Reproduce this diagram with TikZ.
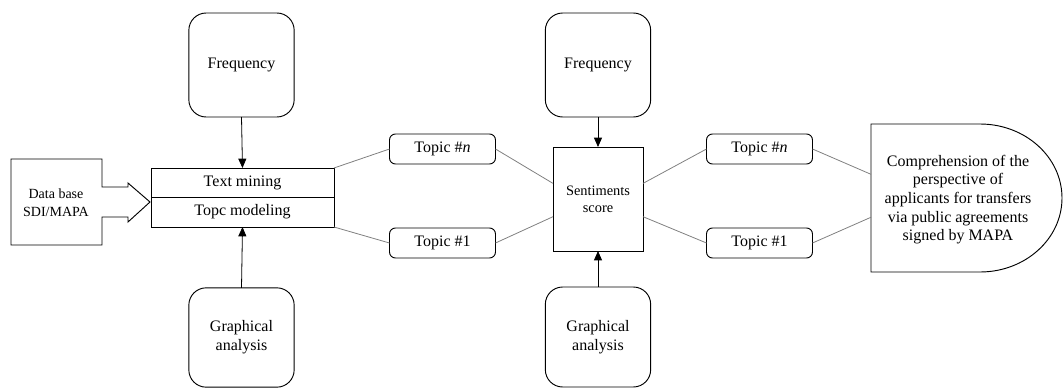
\documentclass[tikz,border=0pt]{standalone}
\usepackage{fontspec}
\setmainfont{Liberation Serif}
\usetikzlibrary{arrows.meta,calc}
\begin{document}
\begin{tikzpicture}[x=0.75pt,y=-0.75pt,
  base/.style={draw=black,line width=0.7pt,align=center,inner sep=0pt,outer sep=0pt,
    font=\fontsize{12}{14.2}\selectfont},
  roundbox/.style={base,rounded corners=13pt,minimum width=79pt,minimum height=78pt},
  topicbox/.style={base,rounded corners=4.5pt,minimum width=79.5pt,minimum height=22.5pt},
  plainbox/.style={base},
  link/.style={draw=gray,line width=0.6pt},
  flow/.style={draw=black,line width=0.6pt,-{Triangle[length=7pt,width=6pt]}}]
\useasboundingbox (0,0) rectangle (1064,389);

% source: data base with block arrow
\draw[line width=0.7pt,line join=miter]
  (11,159) -- (102,159) -- (102,187) -- (128,187) -- (128,183) -- (150,202)
  -- (128,222) -- (128,217) -- (102,217) -- (102,245) -- (11,245) -- cycle;
\node[align=center,font=\fontsize{10.5}{13.5}\selectfont] (db) at (56,203) {Data base\\SDI/MAPA};

% first processing stage
\node[plainbox,minimum width=137.25pt,minimum height=21.75pt] (tm) at (242.5,182.5) {Text mining};
\node[plainbox,minimum width=137.25pt,minimum height=22.5pt,anchor=north] (tp) at (tm.south) {Topc modeling};
\node[roundbox] (freqL) at (241.5,65) {Frequency};
\node[roundbox,minimum height=74.5pt] (gaL) at (241.5,337.5) {Graphical\\analysis};
\draw[flow] (freqL.south) -- (tm.north);
\draw[flow] (gaL.north) -- (tp.south);

% topics after modeling
\node[topicbox] (tLn) at (442.5,149) {Topic \#\textit{n}};
\node[topicbox] (tL1) at (442.5,243) {Topic \#1};

% sentiment stage
\node[plainbox,minimum width=67.5pt,minimum height=78pt,
  font=\fontsize{10.8}{13}\selectfont] (sent) at (598,199) {Sentiments\\score};
\node[roundbox] (freqM) at (598,65) {Frequency};
\node[roundbox,minimum height=75pt] (gaM) at (598,337) {Graphical\\analysis};
\draw[flow] (freqM.south) -- (sent.north);
\draw[flow] (gaM.north) -- (sent.south);

% topics after scoring
\node[topicbox] (tRn) at (759.5,149) {Topic \#\textit{n}};
\node[topicbox] (tR1) at (759.5,243) {Topic \#1};

% outcome (delay-shaped terminal)
\coordinate (fin-nw) at (871,124);
\coordinate (fin-sw) at (871,272);
\draw[line width=0.7pt] (fin-nw) -- (980,124)
  arc[start angle=90,end angle=-90,x radius=61.5pt,y radius=55.5pt]
  -- (fin-sw) -- cycle;
\node[align=center,font=\fontsize{12}{14}\selectfont] (fin) at (958,199.5)
  {Comprehension of the\\perspective of\\applicants for transfers\\via public agreements\\signed by MAPA};

% connectors
\draw[link] (tm.north east) -- (tLn.west);
\draw[link] (tp.south east) -- (tL1.west);
\draw[link] (tLn.east) -- ($(sent.north west)!0.35!(sent.south west)$);
\draw[link] (tL1.east) -- ($(sent.north west)!0.67!(sent.south west)$);
\draw[link] ($(sent.north east)!0.35!(sent.south east)$) -- (tRn.west);
\draw[link] ($(sent.north east)!0.67!(sent.south east)$) -- (tR1.west);
\draw[link] (tRn.east) -- ($(fin-nw)!0.34!(fin-sw)$);
\draw[link] (tR1.east) -- ($(fin-nw)!0.63!(fin-sw)$);
\end{tikzpicture}
\end{document}
